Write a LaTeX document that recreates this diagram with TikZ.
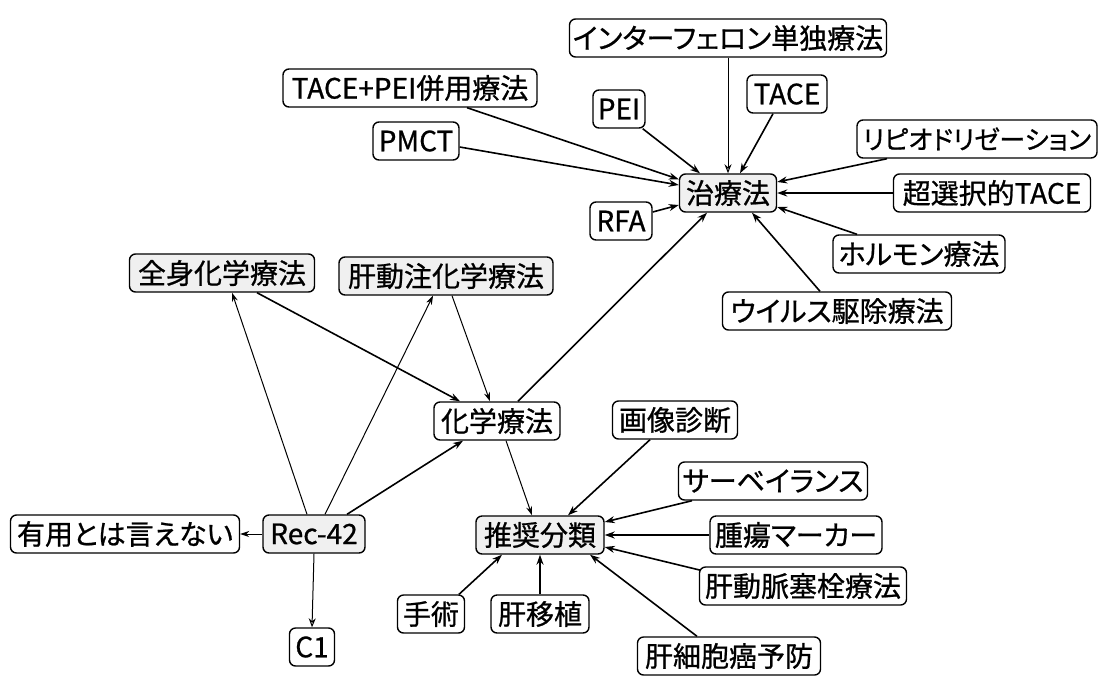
\documentclass[tikz,border=0pt]{standalone}
\usepackage{fontspec}
\setmainfont{Noto Sans CJK JP}[RawFeature=+palt, FakeBold=0.8]
\usetikzlibrary{arrows.meta}
\tikzset{
  box/.style={draw=black, line width=1.4pt, rounded corners=6pt, fill=white,
    minimum height=38pt, inner xsep=3pt, inner ysep=1pt,
    font=\fontsize{28}{32}\selectfont},
  hub/.style={box, fill=gray!12},
  con/.style={line width=1.6pt, -{Stealth[length=10pt,width=7pt]}},
  thin/.style={line width=1pt, -{Stealth[length=9pt,width=6pt]}},
  thinopen/.style={line width=1pt, -{Stealth[open,length=9pt,width=7pt]}}
}
\begin{document}
\begin{tikzpicture}[x=1pt,y=-1pt]
\useasboundingbox[fill=white] (0,0) rectangle (1107,683);
% nodes
\node[box, minimum width=317pt] (ifn) at (728,38) {インターフェロン単独療法};
\node[box, minimum width=254pt] (tacepei) at (410,88) {TACE+PEI併用療法};
\node[box, minimum width=86pt] (pmct) at (416,141) {PMCT};
\node[box, minimum width=52pt] (pei) at (619,109) {PEI};
\node[box, minimum width=80pt] (tace) at (787,94) {TACE};
\node[box, minimum width=240pt, font=\fontsize{26}{30}\selectfont] (lipi) at (977,139) {リピオドリゼーション};
\node[hub, minimum width=97pt] (chiryo) at (728,193) {治療法};
\node[box, minimum width=62pt] (rfa) at (621,221) {RFA};
\node[box, minimum width=197pt] (chosen) at (992,193) {超選択的TACE};
\node[box, minimum width=172pt] (horm) at (919,254) {ホルモン療法};
\node[box, minimum width=229pt] (virus) at (837,311) {ウイルス駆除療法};
\node[hub, minimum width=185pt] (zenshin) at (222,273) {全身化学療法};
\node[hub, minimum width=214pt] (kandochu) at (446,276) {肝動注化学療法};
\node[box, minimum width=126pt] (kagaku) at (497,421) {化学療法};
\node[box, minimum width=125pt] (gazo) at (675,420) {画像診断};
\node[box, minimum width=189pt] (surv) at (773,481) {サーベイランス};
\node[hub, minimum width=128pt] (suisho) at (540,535) {推奨分類};
\node[box, minimum width=172pt] (shuyo) at (796,535) {腫瘍マーカー};
\node[box, minimum width=207pt] (kandomyaku) at (803,586) {肝動脈塞栓療法};
\node[box, minimum width=183pt] (kansaibo) at (729,656) {肝細胞癌予防};
\node[box, minimum width=229pt] (yuyo) at (125,534) {有用とは言えない};
\node[hub, minimum width=102pt] (rec) at (314,534) {Rec-42};
\node[box, minimum width=45pt] (c1) at (312,647) {C1};
\node[box, minimum width=67pt] (shujutsu) at (431,614) {手術};
\node[box, minimum width=98pt] (kanishoku) at (540,614) {肝移植};
% connectors to 治療法
\draw[thinopen] (ifn.south) -- (chiryo.north);
\draw[con] ([xshift=-14pt]tace.south) -- ([xshift=12pt]chiryo.north);
\draw[con] ([xshift=-3pt]pei.south east) -- ([xshift=-28pt]chiryo.north);
\draw[con] ([xshift=57pt]tacepei.south) -- ([yshift=-6pt]chiryo.north west);
\draw[con] ([yshift=-6pt]pmct.east) -- ([yshift=8pt]chiryo.west);
\draw[con] ([yshift=9pt]rfa.east) -- ([yshift=-12pt]chiryo.west);
\draw[con] ([xshift=-90pt]lipi.south) -- ([yshift=11pt]chiryo.east);
\draw[con] (chosen.west) -- (chiryo.east);
\draw[con] ([xshift=-62pt]horm.north) -- ([yshift=-14pt]chiryo.east);
\draw[con] ([xshift=-17pt]virus.north) -- ([xshift=24pt]chiryo.south);
\draw[con] ([xshift=21pt]kagaku.north) -- ([xshift=-21pt]chiryo.south);
% connectors to 化学療法 and from Rec-42
\draw[con] ([xshift=35pt]zenshin.south) -- ([xshift=-37pt]kagaku.north);
\draw[thin] ([xshift=6pt]kandochu.south) -- ([xshift=-7pt]kagaku.north);
\draw[thin] ([xshift=-7pt]rec.north) -- ([xshift=10pt]zenshin.south);
\draw[thin] ([xshift=11pt]rec.north) -- ([xshift=-13pt]kandochu.south);
\draw[con] ([xshift=33pt]rec.north) -- ([xshift=-34pt]kagaku.south);
\draw[thin] (rec.west) -- (yuyo.east);
\draw[thinopen] (rec.south) -- (c1.north);
% connectors to 推奨分類
\draw[thin] ([xshift=9pt]kagaku.south) -- ([xshift=-8pt]suisho.north);
\draw[con] ([xshift=-25pt]gazo.south) -- ([xshift=28pt]suisho.north);
\draw[con] ([xshift=-81pt]surv.south) -- ([yshift=13pt]suisho.east);
\draw[con] (shuyo.west) -- (suisho.east);
\draw[con] ([xshift=2pt,yshift=-4pt]kandomyaku.north west) -- ([yshift=-12pt]suisho.east);
\draw[con] ([xshift=-32pt]kansaibo.north) -- ([xshift=50pt]suisho.south);
\draw[con] ([xshift=28pt]shujutsu.north) -- ([xshift=-38pt]suisho.south);
\draw[con] (kanishoku.north) -- (suisho.south);
\end{tikzpicture}
\end{document}
